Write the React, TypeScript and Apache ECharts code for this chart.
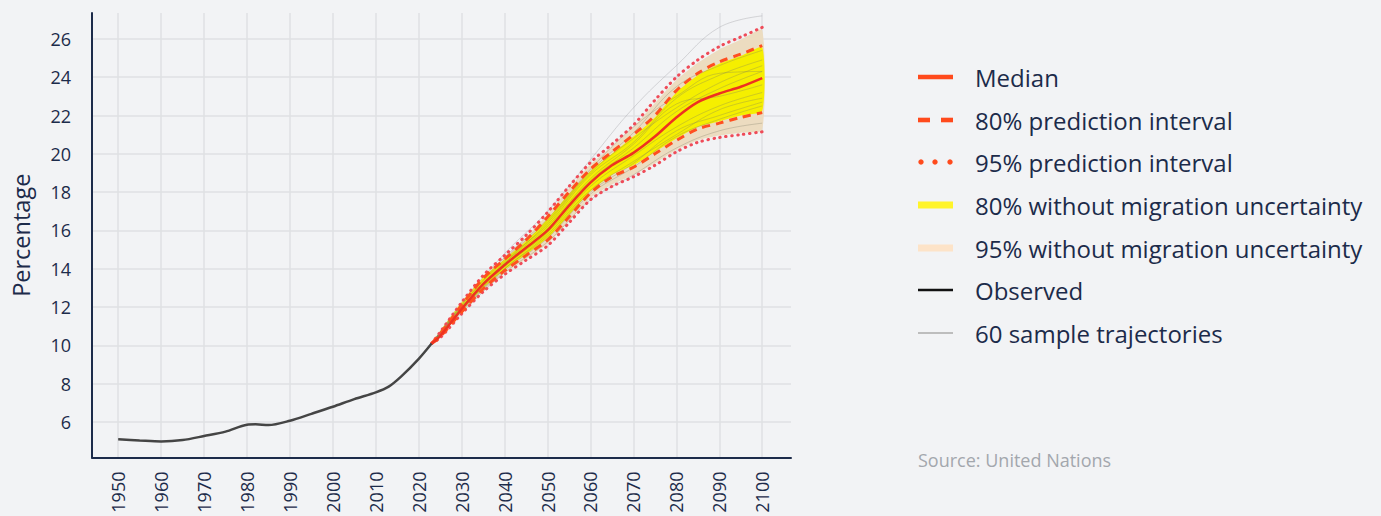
import React, { useEffect, useRef } from "react";
import * as echarts from "echarts";

// ---------- data ----------
const observedYears = [1950, 1955, 1960, 1965, 1970, 1975, 1980, 1982, 1985, 1990, 1995, 2000, 2005, 2010, 2013, 2016, 2020, 2023];
const observedValues = [5.1, 5.04, 4.99, 5.06, 5.27, 5.5, 5.86, 5.88, 5.84, 6.07, 6.43, 6.8, 7.2, 7.55, 7.85, 8.4, 9.3, 10.1];

const projYears = [2023, 2025, 2030, 2035, 2040, 2045, 2050, 2055, 2060, 2065, 2070, 2075, 2080, 2085, 2090, 2095, 2100];
const median = [10.1, 10.5, 11.9, 13.2, 14.2, 15.1, 16.0, 17.3, 18.5, 19.4, 20.05, 20.9, 21.9, 22.7, 23.15, 23.5, 23.95];
const upper80 = [10.1, 10.6, 12.1, 13.5, 14.5, 15.5, 16.7, 18.0, 19.2, 20.1, 21.0, 22.0, 23.3, 24.2, 24.8, 25.2, 25.65];
const lower80 = [10.1, 10.45, 11.75, 12.95, 13.9, 14.7, 15.5, 16.7, 17.95, 18.8, 19.3, 20.0, 20.7, 21.3, 21.6, 21.9, 22.15];
const upper95 = [10.1, 10.7, 12.25, 13.65, 14.7, 15.75, 16.95, 18.3, 19.55, 20.5, 21.5, 22.8, 24.0, 24.9, 25.6, 26.1, 26.6];
const lower95 = [10.1, 10.4, 11.65, 12.8, 13.7, 14.45, 15.2, 16.4, 17.6, 18.3, 18.8, 19.4, 20.1, 20.6, 20.85, 21.0, 21.15];
const noMig80Hi = [10.1, 10.75, 12.25, 13.55, 14.5, 15.45, 16.6, 17.9, 19.1, 20.0, 20.9, 21.9, 23.2, 24.1, 24.7, 25.1, 25.55];
const noMig80Lo = [10.1, 10.5, 11.8, 13.0, 13.95, 14.75, 15.6, 16.8, 18.05, 18.9, 19.4, 20.1, 20.8, 21.4, 21.7, 22.0, 22.25];
const noMig95Hi = [10.1, 10.75, 12.3, 13.6, 14.6, 15.65, 16.85, 18.2, 19.45, 20.4, 21.4, 22.65, 23.85, 24.75, 25.45, 25.95, 26.45];
const noMig95Lo = [10.1, 10.45, 11.7, 12.85, 13.75, 14.5, 15.3, 16.5, 17.7, 18.4, 18.9, 19.5, 20.2, 20.7, 20.95, 21.1, 21.25];

const trajYears = [2023, 2030, 2040, 2050, 2060, 2070, 2080, 2090, 2100];
const trajectories = [
  [10.1, 12.2, 14.8, 17.0, 19.7, 22.4, 24.6, 26.6, 27.2],
  [10.1, 12.0, 14.4, 16.3, 18.9, 20.6, 22.9, 24.1, 24.9],
  [10.1, 11.9, 14.1, 15.9, 18.3, 19.9, 21.4, 22.5, 23.2],
  [10.1, 12.1, 14.5, 16.5, 19.1, 21.1, 23.5, 24.6, 25.4],
  [10.1, 11.8, 13.9, 15.6, 17.9, 19.3, 20.9, 21.8, 22.5],
  [10.1, 11.9, 14.2, 16.1, 18.6, 20.3, 22.2, 23.4, 24.3],
  [10.1, 11.7, 13.8, 15.4, 17.6, 18.9, 20.3, 21.2, 21.6],
  [10.1, 12.0, 14.3, 16.2, 18.7, 20.5, 22.6, 23.0, 23.6],
  [10.1, 12.1, 14.6, 16.6, 19.2, 21.4, 23.0, 24.2, 24.3],
  [10.1, 11.9, 14.0, 15.8, 18.1, 19.6, 21.0, 22.3, 22.9],
  [10.1, 12.0, 14.3, 16.4, 19.0, 20.8, 22.4, 23.7, 24.6],
  [10.1, 11.8, 14.0, 15.7, 18.0, 19.5, 21.2, 22.0, 22.7],
];

const xTickValues = [1950, 1960, 1970, 1980, 1990, 2000, 2010, 2020, 2030, 2040, 2050, 2060, 2070, 2080, 2090, 2100];
const yTickValues = [6, 8, 10, 12, 14, 16, 18, 20, 22, 24, 26];

const legendItems = [
  "Median",
  "80% prediction interval",
  "95% prediction interval",
  "80% without migration uncertainty",
  "95% without migration uncertainty",
  "Observed",
  "60 sample trajectories",
];

// ---------- helpers ----------
const pairs = (xs: number[], ys: number[]) => xs.map((x, i) => [x, ys[i]]);

const NAVY = "#1c2b4a";
const FONT = "'Open Sans', Lato, sans-serif";

export default function App() {
  const ref = useRef<HTMLDivElement>(null);

  useEffect(() => {
    if (!ref.current) return;
    const chart = echarts.init(ref.current, null, { renderer: "svg" });

    const band = (name: string, lo: number[], hi: number[], color: string, z: number) => ({
      type: "custom",
      name,
      silent: true,
      z,
      data: projYears.map((y, i) => [y, lo[i], hi[i]]),
      encode: { x: 0, y: [1, 2] },
      renderItem: (params: any, api: any) => {
        if (params.dataIndex !== 0) return null;
        const top = projYears.map((y, i) => api.coord([y, hi[i]]));
        const bottom = projYears.map((y, i) => api.coord([y, lo[i]])).reverse();
        return {
          type: "polygon",
          shape: { points: top.concat(bottom), smooth: 0.2 },
          style: { fill: color, stroke: "none" },
        };
      },
    });

    const legendY = [77, 120, 162, 205, 248, 290, 333];
    const iconX = 918;
    const iconW = 35;
    const graphics: any[] = [];
    graphics.push({ type: "rect", shape: { x: iconX, y: legendY[0] - 2.3, width: iconW, height: 4.6 }, style: { fill: "#ff4a1c" } });
    graphics.push({ type: "rect", shape: { x: iconX, y: legendY[1] - 2.3, width: 12, height: 4.6 }, style: { fill: "#ff4a1c" } });
    graphics.push({ type: "rect", shape: { x: iconX + 23, y: legendY[1] - 2.3, width: 12, height: 4.6 }, style: { fill: "#ff4a1c" } });
    [921, 935, 950].forEach((cx) =>
      graphics.push({ type: "circle", shape: { cx, cy: legendY[2], r: 2.7 }, style: { fill: "#ff4a1c" } })
    );
    graphics.push({ type: "rect", shape: { x: iconX, y: legendY[3] - 3.6, width: iconW, height: 7.2 }, style: { fill: "#fff42a" } });
    graphics.push({ type: "rect", shape: { x: iconX, y: legendY[4] - 3.6, width: iconW, height: 7.2 }, style: { fill: "#fde3c8" } });
    graphics.push({ type: "rect", shape: { x: iconX, y: legendY[5] - 1.3, width: iconW, height: 2.6 }, style: { fill: "#111111" } });
    graphics.push({ type: "rect", shape: { x: iconX, y: legendY[6] - 0.9, width: iconW, height: 1.8 }, style: { fill: "#bdbdbd" } });
    legendItems.forEach((t, i) =>
      graphics.push({
        type: "text",
        x: 975,
        y: legendY[i],
        style: { text: t, fontSize: 24, fill: NAVY, fontFamily: FONT, verticalAlign: "middle", align: "left" },
      })
    );
    graphics.push({
      type: "text",
      x: 918,
      y: 460,
      style: {
        text: "Source: United Nations",
        fontSize: 18,
        fill: "#a3a7ad",
        fontFamily: FONT,
        verticalAlign: "middle",
        align: "left",
      },
    });

    const option: any = {
      animation: false,
      backgroundColor: "#f2f3f5",
      grid: { left: 92, right: 590, top: 13, bottom: 58.5 },
      xAxis: {
        type: "value",
        min: 1943.9,
        max: 2106.7,
        axisLine: { show: true, lineStyle: { color: NAVY, width: 2 } },
        axisTick: { show: false, customValues: xTickValues },
        axisLabel: {
          customValues: xTickValues,
          rotate: 90,
          margin: 14,
          fontSize: 18,
          color: NAVY,
          fontFamily: FONT,
          formatter: (v: number) => String(v),
        },
        splitLine: { show: true, lineStyle: { color: "#dfe0e3", width: 1.5 } },
      },
      yAxis: {
        type: "value",
        min: 4.15,
        max: 27.35,
        name: "Percentage",
        nameLocation: "middle",
        nameGap: 59,
        nameRotate: 90,
        nameTextStyle: { fontSize: 23.5, color: NAVY, fontFamily: FONT },
        axisLine: { show: true, lineStyle: { color: NAVY, width: 2 } },
        axisTick: { show: false, customValues: yTickValues },
        axisLabel: {
          customValues: yTickValues,
          margin: 21,
          fontSize: 18,
          color: NAVY,
          fontFamily: FONT,
          padding: [6, 0, 0, 0],
          formatter: (v: number) => String(v),
        },
        splitLine: { show: true, lineStyle: { color: "#dfe0e3", width: 1.5 } },
      },
      graphic: graphics,
      series: [
        band("95% without migration uncertainty", noMig95Lo, noMig95Hi, "#ecdcc0", 1),
        band("80% without migration uncertainty", noMig80Lo, noMig80Hi, "#f5ef00", 2),
        ...trajectories.map((t, i) => ({
          type: "line",
          name: "traj" + i,
          data: pairs(trajYears, t),
          symbol: "none",
          smooth: 0.4,
          lineStyle: { color: i === 0 ? "rgba(170,170,175,0.45)" : "rgba(120,120,100,0.3)", width: 1 },
          silent: true,
          z: 3,
        })),
        ...[upper95, lower95].map((d, i) => ({
          type: "line",
          name: "95% PI " + i,
          data: pairs(projYears, d),
          symbol: "none",
          smooth: 0.3,
          lineStyle: { color: "#ef4b58", width: 3, type: [0.5, 5.5], cap: "round" },
          z: 4,
        })),
        ...[upper80, lower80].map((d, i) => ({
          type: "line",
          name: "80% PI " + i,
          data: pairs(projYears, d),
          symbol: "none",
          smooth: 0.3,
          lineStyle: { color: "#ff4f1f", width: 3, type: [8, 6] },
          z: 5,
        })),
        {
          type: "line",
          name: "Median",
          data: pairs(projYears, median),
          symbol: "none",
          smooth: 0.3,
          lineStyle: { color: "#ee3220", width: 2.5 },
          z: 6,
        },
        {
          type: "line",
          name: "Observed",
          data: pairs(observedYears, observedValues),
          symbol: "none",
          smooth: 0.3,
          lineStyle: { color: "#454545", width: 2.5 },
          z: 6,
        },
      ],
    };

    chart.setOption(option);
    return () => chart.dispose();
  }, []);

  return (
    <div
      ref={ref}
      style={{ position: "fixed", left: 0, top: 0, width: 1381, height: 516, background: "#f2f3f5" }}
    />
  );
}
